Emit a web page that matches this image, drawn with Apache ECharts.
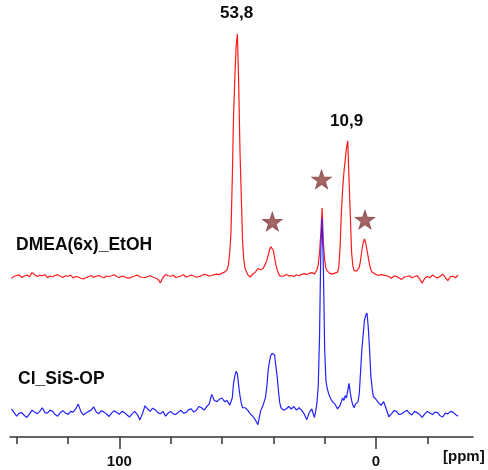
<!DOCTYPE html>
<html><head><meta charset="utf-8">
<script src="https://cdn.jsdelivr.net/npm/echarts@6/dist/echarts.min.js"></script>
<style>html,body{margin:0;padding:0;background:#fff}#c{width:488px;height:470px}</style>
</head><body><div id="c"></div>
<script>
// chemical shift sampling (ppm)
const ppm = [
  142,141,140,139,138,137,136,135,134,133,
  132,131,130,129,128,127,126,125,124,123,
  122,121,120,119,118,117,116,115,114,113,
  112,111,110,109,108,107,106,105,104,103,
  102,101,100,99,98,97,96,95,94,93,
  92,91,90,89,88,87,86,85,84,83,
  82,81,80,79,78,77,76,75,74,73,
  72,71,70,69,68,67,66,65,64,63,
  62,61,60,
  59,58,57.5,57,56.5,56,55.5,55,54.5,54,
  53.5,53,52.5,52,51.5,51,50,49,48,47,
  46,45,44,43,42.5,42,41.5,41,40.5,40,
  39.5,39,38.5,38,37.5,37,36,35,34,33,
  32,31,30,29,28,27,26,25,24,23.5,
  23,22.5,22,21.5,21,20.5,20,19.5,19,18.5,
  18,17,16,15,14.5,14,13.5,13,12.5,12,
  11.5,11,10.5,10,9.5,9,8.5,8,7.5,7,
  6.5,6,5.5,5,4.5,4,3.5,3,2.5,2,
  1.5,1,0,-1,-2,
  -3,-4,-5,-6,-7,-8,-9,-10,-11,-12,
  -13,-14,-15,-16,-17,-18,-19,-20,-21,-22,
  -23,-24,-25,-26,-27,-28,-29,-30,-31,-32
];
// DMEA(6x)_EtOH intensity (relative)
const dmeaEtOH = [
  -0.5,0.3,0.6,0.9,-0.2,0.4,0.8,0.1,1.8,0.9,
  0.2,0.7,0.5,1.0,-0.3,0.4,0.1,0.6,0.9,0.3,
  -0.2,0.5,0.3,0.8,-0.4,0.2,0.0,-0.5,-0.8,-0.3,
  0.2,0.6,-0.1,0.3,0.6,0.1,-0.3,0.4,0.2,0.5,
  0.9,0.2,-0.2,0.4,0.1,-0.4,-0.5,0.1,0.4,0.8,
  0.1,-0.2,-0.3,0.2,0.5,0.0,-0.4,-0.9,-2.4,-0.3,
  1.0,0.5,0.3,0.7,-0.2,0.1,0.4,0.9,0.0,0.3,
  0.8,0.4,-0.1,0.2,0.5,1.1,0.9,0.4,0.6,1.0,
  1.2,1.0,1.6,
  2.0,3.0,5,10,18,40,66,82,95,100,
  80,52,34,15,7,3.5,1.0,0.0,1.2,2.0,
  3.5,3.0,3.5,5.5,7,9,11,12.5,12.8,11,
  8,5,3,1.5,0.5,0.8,0.3,1.0,0.5,0.6,
  0.2,0.9,0.5,1.0,1.4,1.0,1.5,1.8,1.2,2.0,
  3.0,5,10,18,28.4,14,7,3.5,2.5,1.8,
  1.5,1.2,1.6,2.0,4,12,26,36,43,48,
  53,56,40,25,10,4.5,2.5,2.0,2.5,3.0,
  4.0,7,11,14,15.7,14,11,8,5,3,
  2,1.2,1.0,0.6,1.0,
  0.8,0.5,0.2,-0.5,0.4,0.3,-0.4,-1.0,0.0,0.2,
  0.5,-0.3,0.1,0.6,-0.8,-2.5,-0.5,0.2,-0.3,0.8,
  0.1,-0.4,0.3,1.2,-0.2,-1.5,0.2,0.3,-0.3,0.8
];
// Cl_SiS-OP intensity (relative)
const clSiSOP = [
  2.5,1.0,-0.5,0.8,1.0,-0.2,-1.0,0.5,2.0,1.2,
  0.5,1.5,3.0,1.0,0.8,2.0,1.5,0.2,-0.5,1.0,
  1.8,0.8,0.2,1.5,1.2,2.5,4.5,1.5,0.0,0.8,
  1.5,2.0,3.4,1.2,0.5,1.8,1.2,0.4,-0.6,0.8,
  1.8,1.0,0.3,1.5,1.0,0.0,-0.8,0.5,1.5,0.2,
  -2.0,0.5,3.8,2.5,1.5,2.8,2.2,1.0,0.5,1.5,
  -0.5,0.8,1.5,0.5,0.2,1.2,2.0,0.8,1.0,2.2,
  2.5,1.2,2.0,3.5,3.0,2.0,3.4,4.5,8.5,6.0,
  5.5,6.5,7.0,
  5.5,6.0,5.0,4.0,4.5,7,13,16,18,17,
  12,8,5,3,2.5,3.0,2.0,0.5,-0.5,-2,
  -4,1.5,4,7.5,12,18.5,22,24.5,25.4,25,
  24.7,20,15.8,10,5,3,2,2.5,3.5,2.5,
  3.5,2.0,3.0,2.0,0.5,-2.0,1.0,2.5,-1.0,1.5,
  5,12,32,68,81,61,27,14,11,9,
  7.5,5.5,4.5,2.5,2.0,4,5.5,7,6,8,
  7,10,13,9,6,4,3,4.5,5,5.5,
  9,18,27,33,39,41,42,36,27,16,
  11,7.5,6.5,5,4,
  5.5,2.5,-0.7,0.5,1.8,1.5,0.2,0.5,1.2,2.0,
  0.8,0.0,1.5,1.0,0.2,-1.0,0.5,1.5,0.8,0.2,
  1.2,1.0,-0.3,-0.8,0.8,0.5,1.5,1.2,0.2,-0.5
];
const axisTicks = [140,120,100,80,60,40,20,0,-20];
const axisLabels = [100,0];
const axisUnit = '[ppm]';
const spectrumNames = ['DMEA(6x)_EtOH','Cl_SiS-OP'];
const peakLabels = ['53,8','10,9'];
const starMarks = [[40.4,22.8],[21.2,40.2],[4.3,23.7]];

const FONT = '"Liberation Sans", Arial, sans-serif';
const starPath = 'path://M0,-10 L2.35,-3.24 L9.51,-3.09 L3.8,1.23 L5.88,8.09 L0,4 L-5.88,8.09 L-3.8,1.23 L-9.51,-3.09 L-2.35,-3.24 Z';

const redData = ppm.map((p,i)=>[p, dmeaEtOH[i]]);
const blueData = ppm.map((p,i)=>[p, clSiSOP[i]]);

const chart = echarts.init(document.getElementById('c'), null, {renderer:'canvas'});
const xBase = {type:'value', min:-37.8, max:142.6, inverse:true};
chart.setOption({
  animation:false,
  backgroundColor:'#fff',
  grid:[
    {left:10, right:15, top:34, bottom:168.7},
    {left:10, right:15, top:172, bottom:33.1}
  ],
  xAxis:[
    Object.assign({gridIndex:0, show:false}, xBase),
    Object.assign({gridIndex:1, position:'bottom',
      axisLine:{onZero:false, lineStyle:{color:'#333', width:1.5}},
      axisTick:{show:true, customValues:axisLabels, length:12, inside:false, lineStyle:{color:'#333', width:1.5}},
      axisLabel:{customValues:axisLabels, margin:17, fontSize:15, fontWeight:'bold', color:'#111', fontFamily:FONT},
      splitLine:{show:false}
    }, xBase),
    Object.assign({gridIndex:1, position:'bottom', offset:0,
      axisLine:{show:false, onZero:false},
      axisTick:{show:true, customValues:axisTicks, length:7, inside:false, lineStyle:{color:'#333', width:1.5}},
      axisLabel:{show:false},
      splitLine:{show:false}
    }, xBase)
  ],
  yAxis:[
    {gridIndex:0, type:'value', min:-10, max:100, show:false},
    {gridIndex:1, type:'value', min:-9, max:100, show:false}
  ],
  series:[
    {type:'line', name:spectrumNames[0], xAxisIndex:0, yAxisIndex:0, data:redData, showSymbol:false, clip:false,
     lineStyle:{color:'#ff1a1a', width:1.2}, z:2},
    {type:'line', name:spectrumNames[1], xAxisIndex:1, yAxisIndex:1, data:blueData, showSymbol:false, clip:false,
     lineStyle:{color:'#2222ff', width:1.2}, z:3},
    {type:'scatter', xAxisIndex:0, yAxisIndex:0, data:starMarks, symbol:starPath, symbolSize:[22,21], clip:false, z:4,
     itemStyle:{color:{type:'radial', x:0.5, y:0.55, r:0.6, colorStops:[{offset:0,color:'#954242'},{offset:1,color:'#6a2727'}]}}}
  ],
  graphic:[
    {type:'text', left:220, top:5, style:{text:peakLabels[0], font:'bold 17px '+FONT, fill:'#0a0a0a'}},
    {type:'text', left:330, top:113, style:{text:peakLabels[1], font:'bold 17px '+FONT, fill:'#0a0a0a'}},
    {type:'text', left:16, top:236, style:{text:spectrumNames[0], font:'bold 17.5px '+FONT, fill:'#0a0a0a'}},
    {type:'text', left:18, top:370, style:{text:spectrumNames[1], font:'bold 17.5px '+FONT, fill:'#0a0a0a'}},
    {type:'text', left:443, top:449, style:{text:axisUnit, font:'bold 15px '+FONT, fill:'#111'}}
  ]
});
</script>
</body></html>
